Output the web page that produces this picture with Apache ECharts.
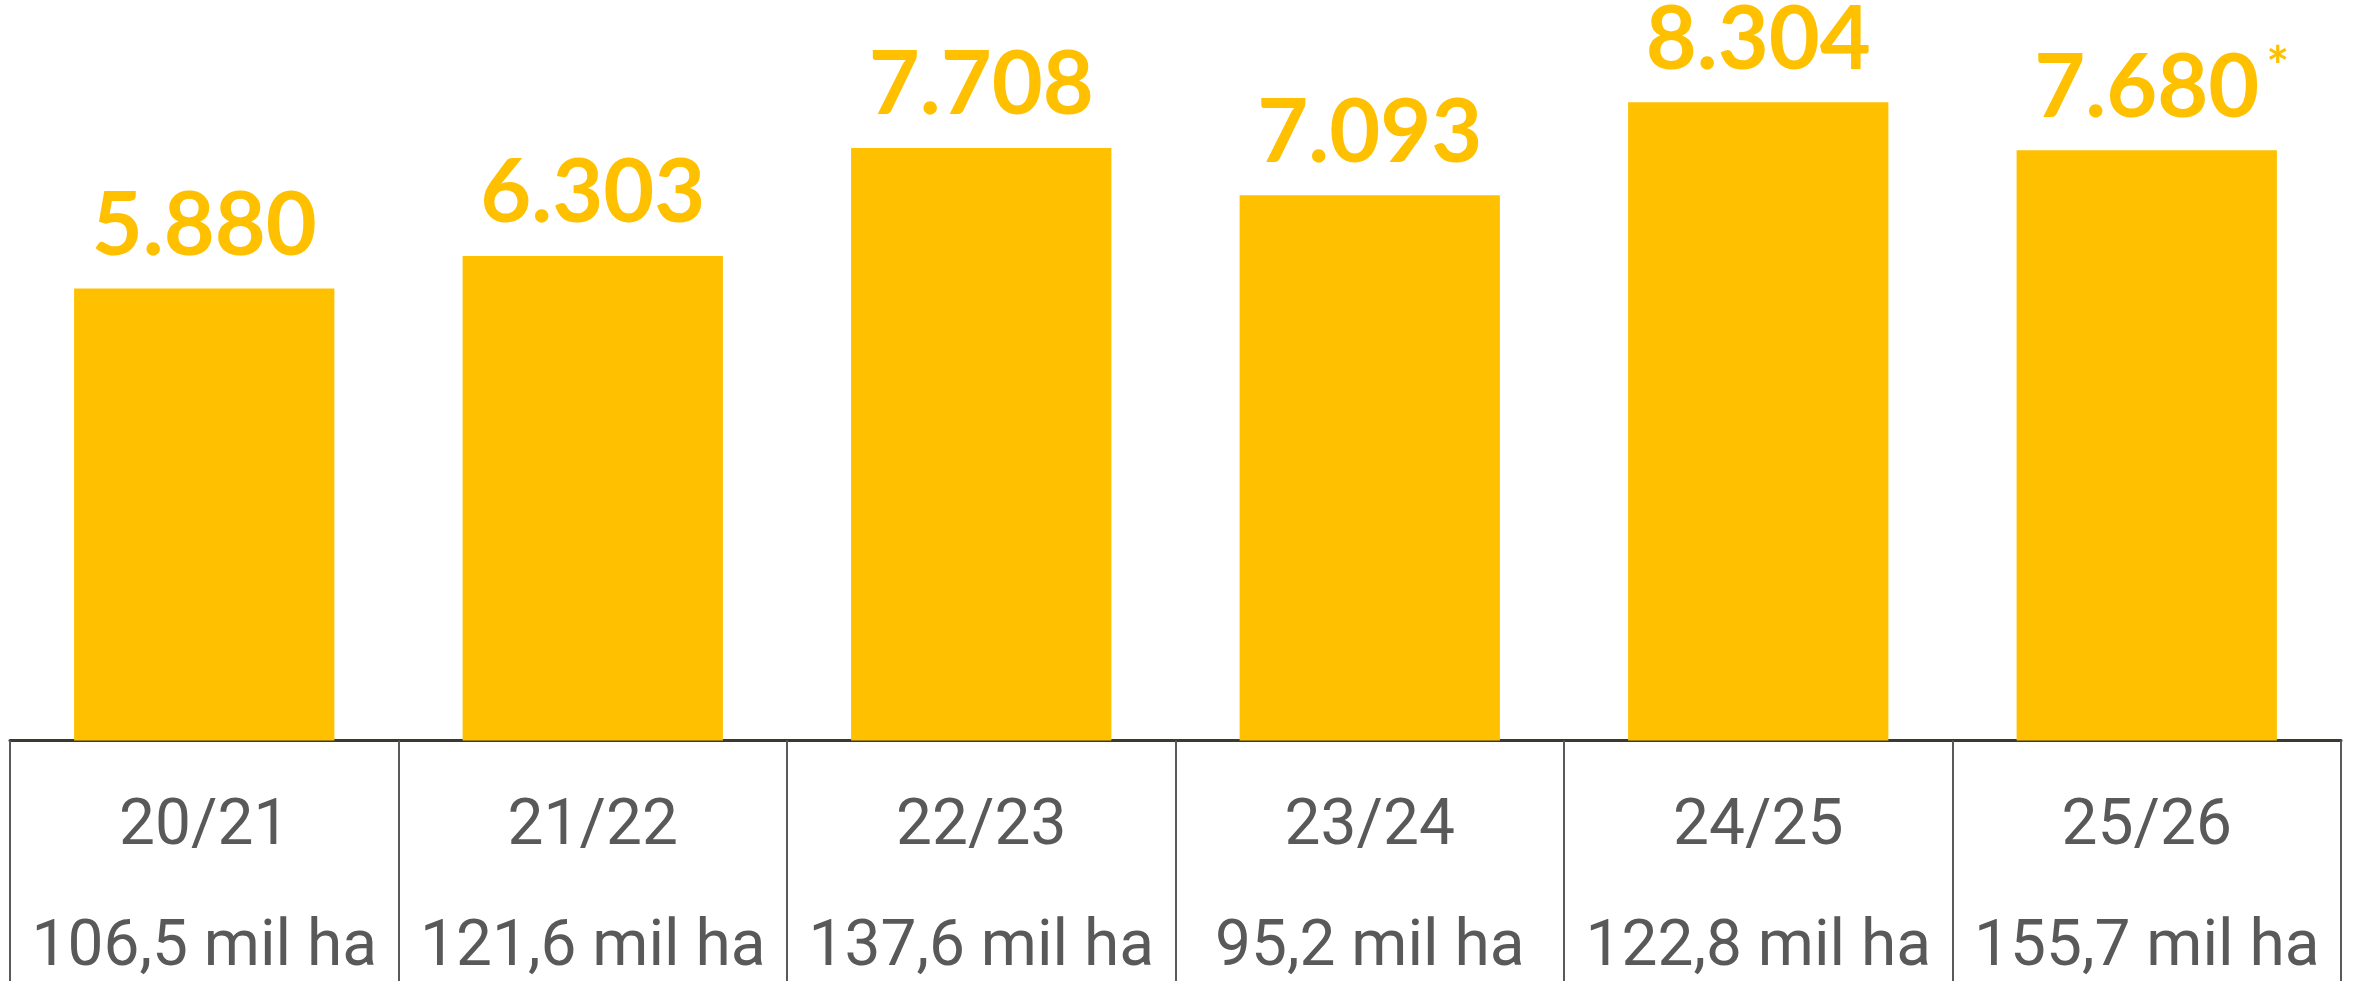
<!DOCTYPE html>
<html>
<head>
<meta charset="utf-8">
<script src="https://cdn.jsdelivr.net/npm/echarts@6/dist/echarts.min.js"></script>
<style>
  html, body { margin: 0; padding: 0; background: #fff; }
  #chart { width: 2356px; height: 981px; }
</style>
</head>
<body>
<div id="chart"></div>
<script>
const seasons = ['20/21', '21/22', '22/23', '23/24', '24/25', '25/26'];
const areas = ['106,5 mil ha', '121,6 mil ha', '137,6 mil ha', '95,2 mil ha', '122,8 mil ha', '155,7 mil ha'];
const production = [5880, 6303, 7708, 7093, 8304, 7680];
const valueLabels = ['5.880', '6.303', '7.708', '7.093', '8.304', '7.680'];
const estimated = [false, false, false, false, false, true];

const chart = echarts.init(document.getElementById('chart'));

chart.setOption({
  animation: false,
  grid: { left: 10, right: 15, top: 0, bottom: 235 },
  xAxis: {
    type: 'category',
    data: seasons,
    axisLine: { lineStyle: { color: '#3a3a30', width: 3 } },
    axisTick: { show: true, interval: 0, length: 245, lineStyle: { color: '#5a5a5a', width: 2 } },
    axisLabel: {
      interval: 0,
      hideOverlap: false,
      margin: 27,
      align: 'center',
      formatter: (v, i) => '{a|' + v + '}\n{b|' + areas[i] + '}',
      rich: {
        a: { color: '#595959', fontFamily: 'Roboto', fontSize: 64, lineHeight: 121, align: 'center' },
        b: { color: '#595959', fontFamily: 'Roboto', fontSize: 64, lineHeight: 121, align: 'center' }
      }
    }
  },
  yAxis: {
    type: 'value',
    min: 0,
    max: 9633,
    show: false,
    splitLine: { show: false }
  },
  series: [{
    type: 'bar',
    data: production,
    barCategoryGap: '33%',
    itemStyle: { color: '#FFC000' },
    label: {
      show: true,
      position: 'top',
      distance: 14,
      formatter: p => estimated[p.dataIndex]
        ? '{pad|}{v|' + valueLabels[p.dataIndex] + '}{s|*}'
        : '{v|' + valueLabels[p.dataIndex] + '}',
      rich: {
        v: { color: '#FFC000', fontFamily: 'Lato', fontWeight: 'bold', fontSize: 88, lineHeight: 96 },
        pad: { width: 30 },
        s: { color: '#FFC000', fontFamily: 'Lato', fontWeight: 'bold', fontSize: 54, width: 30, align: 'right', verticalAlign: 'top', lineHeight: 40, padding: [0, 0, 46, 0] }
      }
    }
  }]
});
</script>
</body>
</html>
